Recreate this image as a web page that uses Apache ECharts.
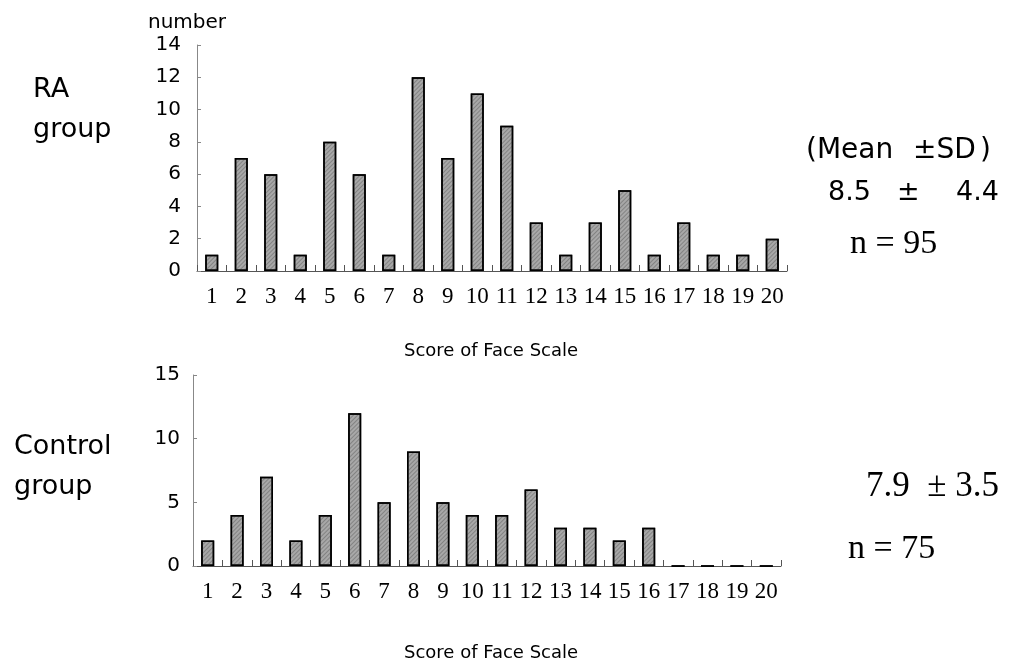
<!DOCTYPE html>
<html>
<head>
<meta charset="utf-8">
<script src="https://cdn.jsdelivr.net/npm/echarts@6/dist/echarts.min.js"></script>
<style>
html,body{margin:0;padding:0;background:#fff;}
#chart{width:1017px;height:669px;}
</style>
</head>
<body>
<div id="chart"></div>
<script>
// scores 1..20
var scores = ['1','2','3','4','5','6','7','8','9','10','11','12','13','14','15','16','17','18','19','20'];
var raCounts = [1,7,6,1,8,6,1,12,7,11,9,3,1,3,5,1,3,1,1,2];
var controlCounts = [2,4,7,2,4,12,5,9,5,4,4,6,3,3,2,3,0,0,0,0];

var sansFont = '"DejaVu Sans", sans-serif';
var serifFont = '"Liberation Serif", serif';

var chart = echarts.init(document.getElementById('chart'));

function xAxisFor(gi){
    return {
        type:'category', gridIndex: gi, data: scores,
        axisLine:{lineStyle:{color:'#555', width:1}},
        axisTick:{show:true, inside:true, length:6, interval:0, lineStyle:{color:'#555'}},
        axisLabel:{color:'#000', fontFamily:serifFont, fontSize:23, margin:14, interval:0}
    };
}
function yAxisFor(gi, max, step, gap){
    return {
        type:'value', gridIndex: gi, min:0, max:max, interval:step,
        axisLine:{show:true, lineStyle:{color:'#888', width:1}},
        axisTick:{show:true, inside:true, length:4, lineStyle:{color:'#888'}},
        splitLine:{show:false},
        axisLabel:{color:'#000', fontFamily:sansFont, fontSize:20, margin:gap}
    };
}

var barStyle = {
    color:'#a8a8a8',
    borderColor:'#000',
    borderWidth:1.5,
    decal:{symbol:'rect', symbolSize:1, dashArrayX:[1,0], dashArrayY:[1,2], rotation:-Math.PI/4, color:'rgba(60,60,60,0.35)'}
};

function txt(x, y, s, size, font){
    return {type:'text', left:x, top:y, style:{text:s, font:size + 'px ' + font, fill:'#000'}};
}

var option = {
    backgroundColor:'#fff',
    animation:false,
    grid:[
        {left:197, top:45, width:590, height:226},
        {left:193, top:375, width:588, height:191}
    ],
    xAxis:[xAxisFor(0), xAxisFor(1)],
    yAxis:[yAxisFor(0, 14, 2, 16), yAxisFor(1, 15, 5, 13)],
    series:[
        {type:'bar', xAxisIndex:0, yAxisIndex:0, data:raCounts, barWidth:13, itemStyle:barStyle},
        {type:'bar', xAxisIndex:1, yAxisIndex:1, data:controlCounts, barWidth:13, itemStyle:barStyle}
    ],
    graphic:[
        txt(148, 13, 'number', 20, sansFont),
        txt(33, 76, 'RA', 27, sansFont),
        txt(33, 116, 'group', 27, sansFont),
        txt(14, 433, 'Control', 27, sansFont),
        txt(14, 473, 'group', 27, sansFont),
        txt(404, 342, 'Score of Face Scale', 18, sansFont),
        txt(404, 644, 'Score of Face Scale', 18, sansFont),
        txt(806, 137, '(Mean', 28, sansFont),
        txt(913, 137, '\u00b1SD', 28, sansFont),
        txt(980, 137, ')', 28, sansFont),
        txt(828, 179, '8.5', 27, sansFont),
        txt(897, 179, '\u00b1', 27, sansFont),
        txt(956, 179, '4.4', 27, sansFont),
        txt(850, 227, 'n = 95', 34, serifFont),
        txt(866, 469, '7.9  \u00b1 3.5', 35, serifFont),
        txt(848, 532, 'n = 75', 34, serifFont)
    ]
};
chart.setOption(option);
</script>
</body>
</html>
